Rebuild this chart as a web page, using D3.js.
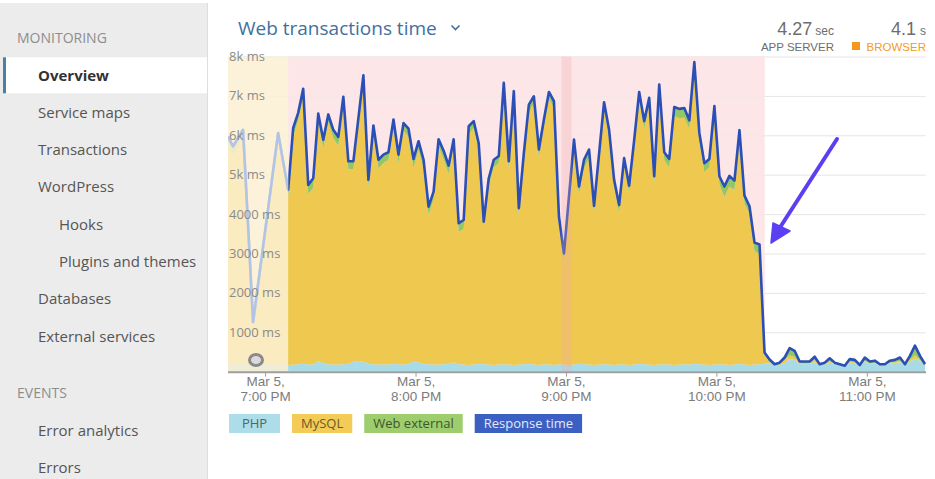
<!DOCTYPE html>
<html>
<head>
<meta charset="utf-8">
<script src="https://cdn.jsdelivr.net/npm/d3@7"></script>
<style>
  html, body { margin: 0; padding: 0; background: #fff; }
  svg { display: block; font-family: 'Open Sans', 'Noto Sans', sans-serif; }
</style>
</head>
<body>
<svg id="chart" width="935" height="479"></svg>
<script>
// ---- data: web transaction time breakdown, one sample every 2 minutes (ms) ----
const startTime = new Date(2019, 2, 5, 18, 45);
const stepMinutes = 2;

const php = [
  230,220,210,200,190,180,180,190,200,190,190,180,170,180,190,200,190,180,270,220,
  190,180,180,190,200,250,270,260,200,190,180,190,180,200,190,180,200,260,240,200,
  190,180,180,190,200,240,190,180,170,180,200,190,180,170,180,190,180,170,180,190,
  200,180,170,190,180,170,190,180,170,180,200,190,180,170,180,190,180,170,190,180,
  170,180,200,190,180,170,180,190,180,170,180,190,180,200,190,180,170,180,190,180,
  170,180,200,180,170,180,190,200,210,180,170,220,320,300,200,190,200,240,170,180,
  230,200,170,150,230,220,150,250,200,210,170,170,210,220,240,170,260,330,280,170
];
const mysql = [
  5550,5280,5520,5750,3370,950,1890,2830,3770,4730,5680,4960,4250,5790,6190,6800,4320,4490,6080,5450,
  6140,5750,5550,6600,4940,4880,5970,7100,4470,5880,4980,5110,5200,6020,5100,5940,5760,4910,5390,4960,
  3790,4190,5530,5200,4820,5480,3360,3440,5870,6000,5400,3430,4520,5020,5110,6980,4970,6780,3770,5170,
  6380,6630,5260,6020,6750,6520,3540,2630,4110,5530,4290,4970,5230,3850,5150,6470,5750,4510,3840,5060,
  4360,5510,6730,5970,6590,4600,6950,5180,5000,6320,6250,6260,5980,7490,5670,4890,5020,6370,4550,4260,
  4530,4430,5740,4080,3840,2880,2810,210,40,0,20,80,90,70,20,20,20,60,10,10,
  30,10,10,0,30,20,10,30,10,20,10,10,20,20,40,10,40,90,20,10
];
const webExternal = [
  190,220,200,190,170,130,150,160,170,180,190,190,200,220,190,180,230,240,200,220,
  200,210,230,190,200,210,190,160,200,180,220,210,190,180,220,190,210,230,220,220,
  210,200,190,220,210,180,220,230,190,180,200,190,210,190,180,160,190,170,200,190,
  200,180,210,190,170,180,210,190,170,180,210,220,230,190,200,180,210,190,200,180,
  190,190,170,200,180,190,160,200,220,230,240,240,220,170,200,220,210,190,220,260,
  270,240,190,210,190,220,230,80,60,10,40,60,190,160,40,50,40,80,10,40,
  80,20,10,0,60,60,10,80,50,50,10,10,50,60,80,10,100,240,100,10
];

const seriesNames = ["PHP", "MySQL", "Web external"];
const lineName = "Response time";
const seriesColors = ["#a9dbe7", "#efc94f", "#93c763"];
const lineColor = "#2b4fb6";

// highlighted windows on the time axis
const dimmedWindow = [new Date(2019, 2, 5, 18, 45), new Date(2019, 2, 5, 19, 9)];
const incidentWindow = [new Date(2019, 2, 5, 19, 9), new Date(2019, 2, 5, 22, 19)];
const incidentMarker = [new Date(2019, 2, 5, 20, 58), new Date(2019, 2, 5, 21, 2)];

const yTickValues = [1000, 2000, 3000, 4000, 5000, 6000, 7000, 8000];
const yTickLabels = ["1000 ms", "2000 ms", "3000 ms", "4000 ms", "5k ms", "6k ms", "7k ms", "8k ms"];

const navItems = [
  { label: "MONITORING", kind: "header" },
  { label: "Overview", kind: "active" },
  { label: "Service maps", kind: "item" },
  { label: "Transactions", kind: "item" },
  { label: "WordPress", kind: "item" },
  { label: "Hooks", kind: "sub" },
  { label: "Plugins and themes", kind: "sub" },
  { label: "Databases", kind: "item" },
  { label: "External services", kind: "item" },
  { label: "EVENTS", kind: "header", gapBefore: true },
  { label: "Error analytics", kind: "item" },
  { label: "Errors", kind: "item" }
];

// ---- build rows ----
const rows = php.map((p, i) => ({
  time: d3.timeMinute.offset(startTime, i * stepMinutes),
  "PHP": p,
  "MySQL": mysql[i],
  "Web external": webExternal[i]
}));

const svg = d3.select("#chart");

// ---- sidebar ----
const side = svg.append("g");
side.append("rect").attr("x", 0).attr("y", 3).attr("width", 207).attr("height", 476).attr("fill", "#ececec");
side.append("line").attr("x1", 207.5).attr("x2", 207.5).attr("y1", 3).attr("y2", 479)
  .attr("stroke", "#dedede");
let ny = 38;
navItems.forEach((it, i) => {
  if (i > 0) ny += 37.3;
  if (it.gapBefore) ny += 19.7;
  if (it.kind === "active") {
    side.append("rect").attr("x", 4).attr("y", ny - 18).attr("width", 203).attr("height", 36).attr("fill", "#ffffff");
    side.append("rect").attr("x", 3).attr("y", ny - 18).attr("width", 3).attr("height", 36).attr("fill", "#4d7fa3");
  }
  side.append("text")
    .attr("x", it.kind === "header" ? 17 : it.kind === "sub" ? 59 : 38)
    .attr("y", ny)
    .attr("dy", "0.35em")
    .attr("font-size", it.kind === "header" ? 14 : 15)
    .attr("font-weight", it.kind === "active" ? 700 : 400)
    .attr("fill", it.kind === "header" ? "#8d8d8d" : it.kind === "active" ? "#333" : "#555")
    .text(it.label);
});

// ---- chart frame ----
const plot = { left: 228, right: 926, top: 56.5, bottom: 371.7 };

const x = d3.scaleTime()
  .domain([startTime, new Date(2019, 2, 5, 23, 23, 24)])
  .range([plot.left, plot.right]);
const y = d3.scaleLinear().domain([0, 8000]).range([plot.bottom, plot.top]);

const defs = svg.append("defs");
defs.append("clipPath").attr("id", "plotClip")
  .append("rect").attr("x", plot.left).attr("y", plot.top - 2)
  .attr("width", plot.right - plot.left).attr("height", plot.bottom - plot.top + 2);
defs.append("clipPath").attr("id", "dimClip")
  .append("rect").attr("x", plot.left).attr("y", plot.top - 2)
  .attr("width", x(dimmedWindow[1]) - plot.left).attr("height", plot.bottom - plot.top + 2);

// title
svg.append("text").attr("x", 238).attr("y", 28).attr("dy", "0.35em")
  .attr("font-size", 19).attr("fill", "#41709f").text("Web transactions time");
svg.append("path").attr("d", "M451.5,25.5 L455.5,29.5 L459.5,25.5")
  .attr("fill", "none").attr("stroke", "#41709f").attr("stroke-width", 1.6);

// summary figures
const summaryFont = "'Liberation Sans', 'Open Sans', sans-serif";
const summary = svg.append("g").attr("fill", "#6d6d6d").attr("font-family", summaryFont);
const s1 = summary.append("text").attr("x", 834).attr("y", 35).attr("text-anchor", "end");
s1.append("tspan").attr("font-size", 18).text("4.27");
s1.append("tspan").attr("font-size", 12).attr("dx", 3).text("sec");
summary.append("text").attr("x", 834).attr("y", 51).attr("text-anchor", "end")
  .attr("font-size", 11.5).text("APP SERVER");
const s2 = summary.append("text").attr("x", 926).attr("y", 35).attr("text-anchor", "end");
s2.append("tspan").attr("font-size", 18).text("4.1");
s2.append("tspan").attr("font-size", 12).attr("dx", 4).text("s");
summary.append("rect").attr("x", 852).attr("y", 42).attr("width", 8).attr("height", 8).attr("fill", "#f39a1e");
summary.append("text").attr("x", 926).attr("y", 51).attr("text-anchor", "end")
  .attr("font-size", 11.5).attr("fill", "#f29a26").text("BROWSER");

// background band for the incident window
svg.append("rect")
  .attr("x", x(incidentWindow[0])).attr("y", plot.top)
  .attr("width", x(incidentWindow[1]) - x(incidentWindow[0]))
  .attr("height", plot.bottom - plot.top)
  .attr("fill", "#fce6e8");

// gridlines
svg.append("g").selectAll("line").data(yTickValues).join("line")
  .attr("x1", plot.left).attr("x2", plot.right)
  .attr("y1", d => y(d) + 0.5).attr("y2", d => y(d) + 0.5)
  .attr("stroke", "#e6e6e6").attr("stroke-width", 1);
// soften the gridlines inside the incident band
svg.append("rect")
  .attr("x", x(incidentWindow[0])).attr("y", plot.top)
  .attr("width", x(incidentWindow[1]) - x(incidentWindow[0]))
  .attr("height", plot.bottom - plot.top)
  .attr("fill", "#fce6e8").attr("opacity", 0.7);

// stacked areas
const stack = d3.stack().keys(seriesNames);
const layers = stack(rows);
const area = d3.area()
  .x(d => x(d.data.time))
  .y0(d => y(d[0]))
  .y1(d => y(d[1]));
const marks = svg.append("g").attr("clip-path", "url(#plotClip)");
marks.selectAll("path.layer").data(layers).join("path")
  .attr("class", "layer")
  .attr("d", area)
  .attr("fill", (d, i) => seriesColors[i]);

// response time line (top of the stack)
const line = d3.line()
  .x(d => x(d.data.time))
  .y(d => y(d[1]));
marks.append("path")
  .datum(layers[layers.length - 1])
  .attr("d", line)
  .attr("fill", "none")
  .attr("stroke", lineColor)
  .attr("stroke-width", 2.6)
  .attr("stroke-linejoin", "round");

// incident marker stripe
svg.append("rect")
  .attr("x", x(incidentMarker[0])).attr("y", plot.top)
  .attr("width", x(incidentMarker[1]) - x(incidentMarker[0]))
  .attr("height", plot.bottom - plot.top)
  .attr("fill", "#f2a5ad").attr("opacity", 0.28);

// dimmed region before the selection
svg.append("rect")
  .attr("x", plot.left).attr("y", plot.top)
  .attr("width", x(dimmedWindow[1]) - plot.left)
  .attr("height", plot.bottom - plot.top)
  .attr("fill", "#fcf0d4").attr("opacity", 0.86);
svg.append("path")
  .datum(layers[layers.length - 1])
  .attr("clip-path", "url(#dimClip)")
  .attr("d", line)
  .attr("fill", "none")
  .attr("stroke", "#b2c4e6")
  .attr("stroke-width", 2.6)
  .attr("stroke-linejoin", "round");

// selection handle
svg.append("ellipse").attr("cx", 256).attr("cy", 360).attr("rx", 6.5).attr("ry", 5.5)
  .attr("fill", "#dadada").attr("stroke", "#8a8a8a").attr("stroke-width", 3);

// x axis
const xAxis = svg.append("g").attr("transform", `translate(0,${plot.bottom})`);
xAxis.append("line").attr("x1", plot.left).attr("x2", plot.right).attr("y1", 0.5).attr("y2", 0.5)
  .attr("stroke", "#9e9e9e").attr("stroke-width", 2);
const hourTicks = x.ticks(d3.timeHour.every(1));
const fmtDate = d3.timeFormat("%b %-d,");
const fmtTime = d3.timeFormat("%-I:%M %p");
const tk = xAxis.selectAll("g.tick").data(hourTicks).join("g")
  .attr("class", "tick")
  .attr("transform", d => `translate(${x(d)},0)`);
tk.append("line").attr("y1", 1).attr("y2", 5).attr("stroke", "#9e9e9e");
const tickFont = "'Liberation Sans Narrow', 'Liberation Sans', sans-serif";
tk.append("text").attr("text-anchor", "middle").attr("y", 14)
  .attr("font-family", tickFont).attr("font-size", 13.5).attr("fill", "#7c7c7c")
  .text(d => fmtDate(d));
tk.append("text").attr("text-anchor", "middle").attr("y", 29.5)
  .attr("font-family", tickFont).attr("font-size", 13.5).attr("fill", "#7c7c7c")
  .text(d => fmtTime(d));

// y labels inside the plot
svg.append("g").selectAll("text").data(yTickValues).join("text")
  .attr("x", plot.left + 1)
  .attr("y", d => y(d))
  .attr("dy", "0.35em")
  .attr("font-size", 13)
  .attr("fill", "#8a8a8a")
  .text((d, i) => yTickLabels[i]);

// legend
const legendItems = [
  { name: seriesNames[0], fill: "#acdde9", text: "#55636a" },
  { name: seriesNames[1], fill: "#f2cc56", text: "#6a5a2a" },
  { name: seriesNames[2], fill: "#9dcd6c", text: "#3f5530" },
  { name: lineName, fill: "#3b5fc2", text: "#e4e9f7" }
];
const legend = svg.append("g").attr("transform", "translate(229,414)");
let lx = 0;
legendItems.forEach(it => {
  const g = legend.append("g").attr("transform", `translate(${lx},0)`);
  const r = g.append("rect").attr("height", 19).attr("fill", it.fill);
  const t = g.append("text").attr("y", 9.5).attr("dy", "0.35em").attr("font-size", 13)
    .attr("fill", it.text).text(it.name);
  const tw = t.node().getComputedTextLength();
  const w = Math.max(51, tw + 18);
  r.attr("width", w);
  t.attr("x", (w - tw) / 2);
  lx += w + 12;
});

// annotation arrow pointing at the drop
const arrow = svg.append("g").attr("fill", "#5a3ff3").attr("stroke", "#5a3ff3");
arrow.append("line").attr("x1", 837).attr("y1", 139).attr("x2", 779).attr("y2", 229)
  .attr("stroke-width", 4).attr("stroke-linecap", "round");
arrow.append("path").attr("d", "M771,243 L773,223 L790,231 Z").attr("stroke-width", 1.5)
  .attr("stroke-linejoin", "round");
</script>
</body>
</html>
